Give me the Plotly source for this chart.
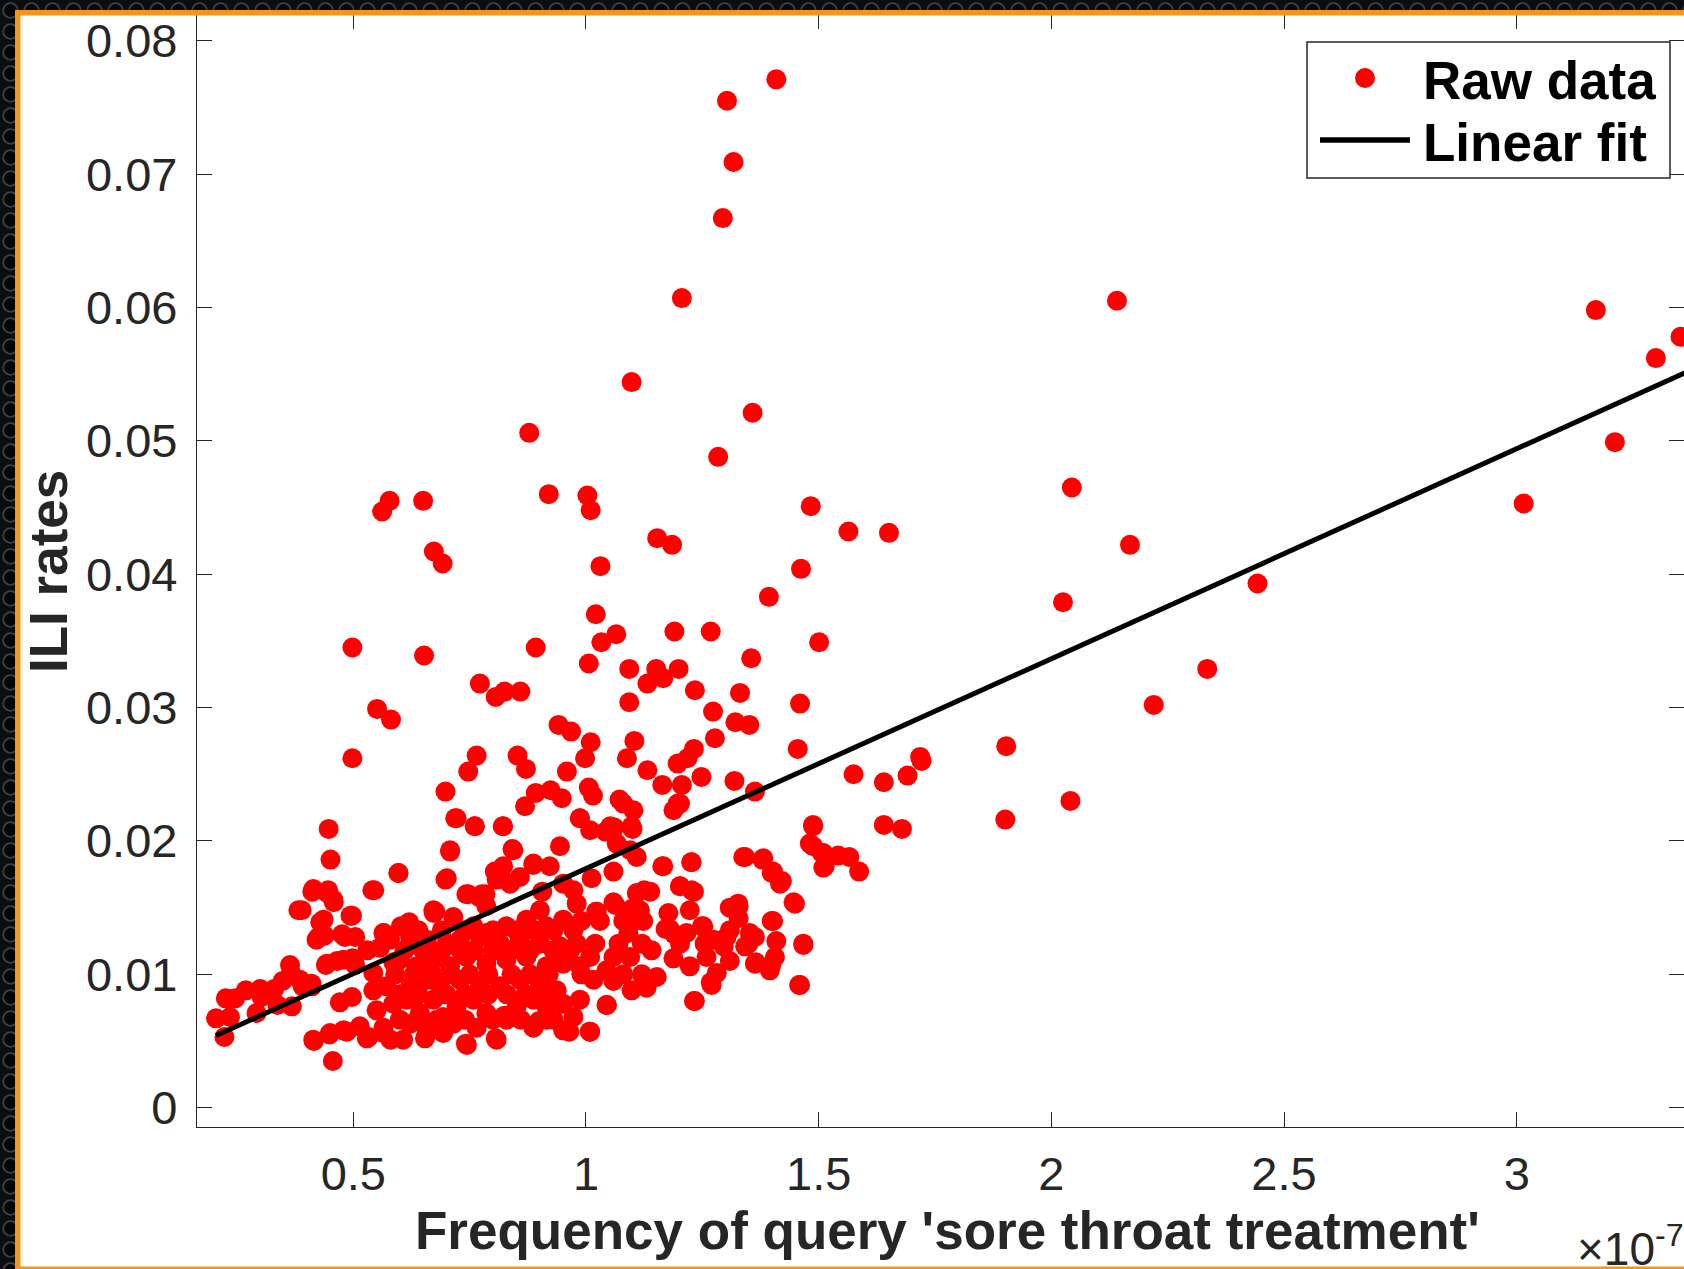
import base64
import plotly.graph_objects as go

# ---------------- data (x in units of 1e-7) ----------------
freq_high = [1.409, 1.303, 1.317, 1.294, 1.206, 2.141, 3.170, 3.352, 3.299, 3.211, 3.015, 1.098, 1.358, 0.878, 1.284,
             2.044, 0.650, 0.578, 0.562, 0.920, 1.003, 1.010, 1.483, 1.153, 1.185, 1.564, 1.651, 2.169, 0.673, 0.692,
             1.031, 1.462, 1.393, 2.025, 2.443, 1.021, 1.065, 1.033, 1.190, 1.268, 1.501, 1.006, 0.498, 0.892, 0.652,
             1.355, 1.093, 1.151, 1.199, 1.132, 1.166, 2.335, 0.772, 0.806, 0.825, 0.859, 1.234, 1.331, 1.093, 1.460,
             2.220]
ili_high = [0.0771, 0.0755, 0.0709, 0.0667, 0.0607, 0.0605, 0.0598, 0.0578, 0.0562, 0.0499, 0.0453, 0.0544, 0.0521, 0.0506, 0.0488,
            0.0465, 0.0455, 0.0455, 0.0447, 0.0460, 0.0459, 0.0448, 0.0451, 0.0427, 0.0422, 0.0432, 0.0431, 0.0422, 0.0417, 0.0408,
            0.0406, 0.0404, 0.0383, 0.0379, 0.0393, 0.0370, 0.0355, 0.0349, 0.0357, 0.0357, 0.0349, 0.0333, 0.0345, 0.0345, 0.0339,
            0.0337, 0.0329, 0.0329, 0.0329, 0.0318, 0.0322, 0.0329, 0.0318, 0.0308, 0.0312, 0.0312, 0.0313, 0.0311, 0.0304, 0.0303,
            0.0302]

freq_mid = [0.551, 0.581, 1.273, 0.941, 0.968, 1.321, 1.351, 1.010, 1.104, 1.277, 1.903, 0.765, 0.853, 1.232, 1.455,
            1.718, 1.721, 0.498, 0.747, 0.871, 0.959, 0.998, 1.088, 1.132, 1.197, 1.218, 1.575, 1.691, 1.640, 1.319,
            1.164, 1.206, 1.248, 1.363, 0.924, 0.892, 1.006, 0.698, 1.015, 0.948, 1.072, 0.869, 1.197, 1.901, 2.041,
            0.719, 0.761, 0.821, 0.447, 0.987, 1.042, 1.061, 1.100, 1.488, 1.640, 1.679]
ili_mid = [0.0299, 0.0291, 0.0297, 0.0287, 0.0282, 0.0289, 0.0287, 0.0274, 0.0275, 0.0277, 0.0271, 0.0264, 0.0264, 0.0269, 0.0269,
           0.0263, 0.0260, 0.0262, 0.0252, 0.0254, 0.0252, 0.0262, 0.0262, 0.0253, 0.0258, 0.0262, 0.0250, 0.0249, 0.0244, 0.0245,
           0.0242, 0.0242, 0.0248, 0.0237, 0.0238, 0.0236, 0.0240, 0.0237, 0.0234, 0.0232, 0.0231, 0.0226, 0.0228, 0.0216, 0.0230,
           0.0217, 0.0211, 0.0211, 0.0209, 0.0217, 0.0207, 0.0210, 0.0209, 0.0211, 0.0212, 0.0209]

freq_low = [1.488, 1.507, 0.842, 0.708, 0.451, 1.338, 1.379, 1.566, 1.226, 1.164, 1.510, 1.587, 1.402, 1.421, 0.597,
            0.698, 0.887, 0.804, 0.412, 0.444, 0.541, 0.458, 0.382, 0.494, 0.747, 0.770, 0.784, 0.906, 1.125, 1.202,
            1.232, 1.446, 1.328, 1.328, 1.402, 0.429, 0.438, 0.421, 0.476, 0.565, 0.602, 0.620, 0.673, 1.022, 1.063,
            1.098, 1.098, 1.171, 1.249, 1.190, 1.363, 1.255, 1.296, 1.342, 1.467, 1.409, 0.530, 0.465, 0.498, 0.441,
            0.364, 0.348, 0.366, 0.330, 0.300, 0.269, 0.246, 0.226, 0.205, 0.235, 0.223, 0.292, 0.303, 0.337, 0.368,
            0.391, 0.410, 1.458, 1.365, 1.398, 1.232, 1.268, 0.415, 0.456, 0.449, 0.486, 0.533, 0.580, 0.742, 0.806,
            0.899, 0.964, 1.008, 1.045, 0.825, 0.915, 0.662]
ili_low = [0.0196, 0.0191, 0.0194, 0.0192, 0.0186, 0.0188, 0.0186, 0.0188, 0.0184, 0.0181, 0.0180, 0.0177, 0.0177, 0.0170, 0.0176,
           0.0171, 0.0182, 0.0177, 0.0162, 0.0161, 0.0163, 0.0154, 0.0148, 0.0144, 0.0160, 0.0158, 0.0160, 0.0162, 0.0163, 0.0166,
           0.0162, 0.0154, 0.0151, 0.0142, 0.0140, 0.0139, 0.0129, 0.0126, 0.0130, 0.0131, 0.0136, 0.0139, 0.0146, 0.0147, 0.0152,
           0.0149, 0.0139, 0.0134, 0.0136, 0.0130, 0.0128, 0.0123, 0.0121, 0.0121, 0.0122, 0.0125, 0.0118, 0.0110, 0.0112, 0.0107,
           0.0107, 0.0095, 0.0101, 0.0089, 0.0089, 0.0088, 0.0082, 0.0082, 0.0067, 0.0068, 0.0053, 0.0071, 0.0083, 0.0077, 0.0076,
           0.0091, 0.0093, 0.0092, 0.0109, 0.0107, 0.0080, 0.0094, 0.0050, 0.0035, 0.0055, 0.0057, 0.0053, 0.0051, 0.0048, 0.0052,
           0.0065, 0.0057, 0.0057, 0.0077, 0.0069, 0.0068, 0.0057]

freq_core_a = [0.722, 0.761, 0.822, 0.708, 0.701, 0.743, 0.776, 0.822, 0.844, 0.808, 0.837, 0.858, 0.887, 0.922, 0.944,
               0.951, 0.786, 0.901, 0.672, 0.715, 0.758, 0.786, 0.829, 0.872, 0.915, 0.951, 0.579, 0.622, 0.658, 0.701,
               0.729, 0.772, 0.815, 0.858, 0.901, 0.944, 0.600, 0.636, 0.672, 0.708, 0.743, 0.786, 0.829, 0.872, 0.915,
               0.951, 0.572, 0.622, 0.658, 0.686, 0.729, 0.772, 0.815, 0.858, 0.901, 0.937, 0.550, 0.586, 0.615, 0.643,
               0.672, 0.693, 0.722, 0.758, 0.786, 0.822, 0.851, 0.887, 0.915, 0.951, 0.565, 0.622, 0.658, 0.715, 0.765,
               0.829, 0.887, 0.414, 0.446, 0.457, 0.389, 0.497, 0.436, 0.425, 0.482, 0.504, 0.565, 0.615, 0.676, 0.557,
               0.443, 0.479, 0.504, 0.385, 0.411, 0.543, 0.586, 0.471, 0.497, 0.543, 0.414, 0.450, 0.479, 0.514, 0.529,
               0.564, 0.607, 0.654, 0.693, 0.744, 0.808, 0.916, 0.951, 0.545, 0.597]
ili_core_a = [0.0217, 0.0211, 0.0211, 0.0193, 0.0172, 0.0160, 0.0160, 0.0181, 0.0193, 0.0171, 0.0168, 0.0173, 0.0183, 0.0181, 0.0196,
              0.0168, 0.0151, 0.0148, 0.0148, 0.0143, 0.0136, 0.0131, 0.0136, 0.0141, 0.0136, 0.0141, 0.0126, 0.0128, 0.0126, 0.0123,
              0.0126, 0.0128, 0.0123, 0.0126, 0.0123, 0.0121, 0.0111, 0.0106, 0.0111, 0.0106, 0.0113, 0.0108, 0.0111, 0.0113, 0.0106,
              0.0108, 0.0091, 0.0091, 0.0096, 0.0091, 0.0096, 0.0091, 0.0091, 0.0096, 0.0093, 0.0088, 0.0073, 0.0078, 0.0081, 0.0071,
              0.0081, 0.0068, 0.0076, 0.0081, 0.0071, 0.0068, 0.0076, 0.0081, 0.0076, 0.0078, 0.0060, 0.0063, 0.0058, 0.0063, 0.0060,
              0.0066, 0.0060, 0.0164, 0.0163, 0.0156, 0.0148, 0.0144, 0.0141, 0.0128, 0.0128, 0.0128, 0.0131, 0.0137, 0.0147, 0.0120,
              0.0108, 0.0111, 0.0107, 0.0096, 0.0091, 0.0101, 0.0109, 0.0079, 0.0083, 0.0088, 0.0051, 0.0056, 0.0058, 0.0061, 0.0052,
              0.0056, 0.0051, 0.0052, 0.0056, 0.0047, 0.0051, 0.0066, 0.0058, 0.0163, 0.0176]

freq_core_b = [0.987, 1.009, 1.052, 1.098, 1.066, 1.095, 1.109, 1.080, 1.102, 1.188, 1.202, 1.166, 1.227, 1.342, 1.381,
               1.399, 1.417, 1.449, 1.488, 1.481, 1.510, 1.513, 1.542, 1.059, 1.012, 0.973, 0.980, 1.023, 1.059, 1.109,
               1.138, 1.116, 1.123, 1.091, 1.177, 1.202, 1.227, 1.223, 1.180, 1.216, 1.252, 1.274, 1.302, 1.309, 1.327,
               1.309, 1.352, 1.349, 1.399, 1.467, 1.406, 1.363, 1.395, 1.460, 1.234, 1.270, 1.281, 1.309, 1.259, 1.223,
               1.188, 1.202, 1.141, 1.152, 1.130, 1.098, 1.095, 1.059, 1.044, 1.059, 1.016, 1.009, 0.973, 0.966, 0.987,
               0.987, 1.044, 0.973, 1.009]
ili_core_b = [0.0217, 0.0208, 0.0211, 0.0211, 0.0198, 0.0193, 0.0188, 0.0228, 0.0223, 0.0223, 0.0228, 0.0181, 0.0184, 0.0188, 0.0187,
              0.0176, 0.0168, 0.0153, 0.0212, 0.0198, 0.0191, 0.0181, 0.0189, 0.0177, 0.0172, 0.0163, 0.0153, 0.0147, 0.0154, 0.0161,
              0.0162, 0.0148, 0.0140, 0.0131, 0.0146, 0.0166, 0.0163, 0.0148, 0.0134, 0.0131, 0.0136, 0.0126, 0.0128, 0.0133, 0.0153,
              0.0150, 0.0131, 0.0123, 0.0140, 0.0123, 0.0113, 0.0108, 0.0103, 0.0092, 0.0080, 0.0092, 0.0101, 0.0110, 0.0113, 0.0106,
              0.0112, 0.0123, 0.0118, 0.0098, 0.0090, 0.0088, 0.0113, 0.0113, 0.0103, 0.0095, 0.0096, 0.0113, 0.0133, 0.0118, 0.0106,
              0.0081, 0.0077, 0.0068, 0.0057]

# extra points filling the dense core of the cloud
freq_core_c = [0.61, 0.65, 0.69, 0.73, 0.76, 0.80, 0.84, 0.88, 0.93,
               0.59, 0.63, 0.67, 0.71, 0.75, 0.79, 0.84, 0.88, 0.92,
               0.60, 0.64, 0.70, 0.74, 0.79, 0.83, 0.87, 0.92,
               0.60, 0.64, 0.68, 0.74, 0.80, 0.86, 0.93,
               0.64, 0.69, 0.74, 0.80, 0.85, 0.89, 0.93,
               0.98, 1.02, 1.07, 1.12, 0.99, 1.08, 1.12, 0.99, 1.03, 1.08]
ili_core_c = [0.0118, 0.0118, 0.0118, 0.0118, 0.0118, 0.0118, 0.0118, 0.0118, 0.0118,
              0.0100, 0.0100, 0.0100, 0.0100, 0.0100, 0.0100, 0.0100, 0.0100, 0.0100,
              0.0085, 0.0085, 0.0085, 0.0085, 0.0085, 0.0085, 0.0085, 0.0085,
              0.0066, 0.0066, 0.0066, 0.0066, 0.0066, 0.0066, 0.0066,
              0.0133, 0.0133, 0.0133, 0.0133, 0.0133, 0.0133, 0.0133,
              0.0123, 0.0123, 0.0123, 0.0123, 0.0100, 0.0100, 0.0100, 0.0140, 0.0140, 0.0140]

fit_x = [0.205, 3.40]
fit_y = [0.00541, 0.0557]

x_ticks = [0.5, 1, 1.5, 2, 2.5, 3]
x_tick_text = ["0.5", "1", "1.5", "2", "2.5", "3"]
y_ticks = [0, 0.01, 0.02, 0.03, 0.04, 0.05, 0.06, 0.07, 0.08]
y_tick_text = ["0", "0.01", "0.02", "0.03", "0.04", "0.05", "0.06", "0.07", "0.08"]

x_label = "Frequency of query 'sore throat treatment'"
y_label = "ILI rates"
x_exponent = "×10<sup>-7</sup>"
legend_names = ["Raw data", "Linear fit"]

freq = freq_high + freq_mid + freq_low + freq_core_a + freq_core_b + freq_core_c
ili = ili_high + ili_mid + ili_low + ili_core_a + ili_core_b + ili_core_c

# ---------------- layout geometry (pixels) ----------------
W, H = 1684, 1269
L, R, T, B = 197, 1684, 14, 1127
def px(x):
    return (x - L) / (R - L)
def py(y):
    return (B - y) / (B - T)

FONT = "Liberation Sans, Arial, Helvetica, sans-serif"
AX = "#262626"
ORANGE = "#F5961C"
RED = "#FF0000"

svg = f'''<svg xmlns="http://www.w3.org/2000/svg" width="{W}" height="{H}">
<defs><pattern id="p" width="21" height="21" patternUnits="userSpaceOnUse">
<rect width="21" height="21" fill="#0c0d10"/>
<circle cx="10.5" cy="10.5" r="7.3" fill="#060607" stroke="#3a434d" stroke-width="1.8"/>
</pattern></defs><rect width="{W}" height="{H}" fill="url(#p)"/></svg>'''
svg_uri = "data:image/svg+xml;base64," + base64.b64encode(svg.encode()).decode()

fig = go.Figure()
fig.add_trace(go.Scatter(x=freq, y=ili, mode="markers", name=legend_names[0], showlegend=False,
                         marker=dict(size=20, color=RED, line=dict(width=0))))
fig.add_trace(go.Scatter(x=fit_x, y=fit_y, mode="lines", name=legend_names[1], showlegend=False,
                         line=dict(color="black", width=5)))

axis_common = dict(showgrid=False, zeroline=False, showline=True, linecolor=AX, linewidth=1.3,
                   ticks="inside", ticklen=15, tickwidth=1.3, tickcolor=AX, mirror="ticks",
                   tickfont=dict(family=FONT, size=47, color=AX), automargin=False)

# legend box drawn in pixel geometry
LEG = dict(x0=1307, x1=1670, y0=42, y1=178)
legend_shapes = [
    dict(type="rect", xref="paper", yref="paper", x0=px(LEG["x0"]), x1=px(LEG["x1"]),
         y0=py(LEG["y1"]), y1=py(LEG["y0"]), fillcolor="white", line=dict(color=AX, width=1.5), layer="above"),
    dict(type="circle", xref="paper", yref="paper", x0=px(1355), x1=px(1375), y0=py(88), y1=py(68),
         fillcolor=RED, line=dict(width=0), layer="above"),
    dict(type="line", xref="paper", yref="paper", x0=px(1320), x1=px(1410), y0=py(140), y1=py(140),
         line=dict(color="black", width=5.5), layer="above"),
]
legend_texts = [
    dict(text=legend_names[0], xref="paper", yref="paper", x=px(1421), y=py(80), xanchor="left", yanchor="middle",
         showarrow=False, font=dict(family=FONT, size=53, color="black", weight="bold")),
    dict(text=legend_names[1], xref="paper", yref="paper", x=px(1421), y=py(142), xanchor="left", yanchor="middle",
         showarrow=False, font=dict(family=FONT, size=53, color="black", weight="bold")),
]

fig.update_layout(
    width=W, height=H, autosize=False, showlegend=False,
    margin=dict(l=L, r=W - R, t=T, b=H - B, pad=0),
    paper_bgcolor="#0c0d10", plot_bgcolor="white",
    xaxis=dict(range=[0.1641, 3.3595], tickvals=x_ticks, ticktext=x_tick_text,
               ticklabelstandoff=5, **axis_common),
    yaxis=dict(range=[-0.001447, 0.08200], tickvals=y_ticks, ticktext=y_tick_text,
               ticklabelstandoff=9, **axis_common),
    images=[dict(source=svg_uri, xref="paper", yref="paper", x=px(0), y=py(0),
                 sizex=W / (R - L), sizey=H / (B - T), sizing="stretch", layer="below",
                 xanchor="left", yanchor="top")],
    shapes=[
        dict(type="rect", xref="paper", yref="paper", x0=px(15), x1=px(W + 10), y0=py(H + 10), y1=py(10),
             fillcolor="white", line=dict(width=0), layer="below"),
        dict(type="rect", xref="paper", yref="paper", x0=px(15), x1=px(W + 10), y0=py(15.5), y1=py(10),
             fillcolor=ORANGE, line=dict(width=0), layer="above"),
        dict(type="rect", xref="paper", yref="paper", x0=px(15), x1=px(20.5), y0=py(H + 10), y1=py(10),
             fillcolor=ORANGE, line=dict(width=0), layer="above"),
        dict(type="rect", xref="paper", yref="paper", x0=px(15), x1=px(W + 10), y0=py(H + 10), y1=py(1266.5),
             fillcolor=ORANGE, line=dict(width=0), layer="above"),
    ] + legend_shapes,
    annotations=[
        dict(text=x_label, xref="paper", yref="paper", x=px(947), y=py(1230), xanchor="center", yanchor="middle",
             showarrow=False, font=dict(family=FONT, size=53, color=AX, weight="bold")),
        dict(text=y_label, xref="paper", yref="paper", x=px(48), y=py(572), xanchor="center", yanchor="middle",
             textangle=-90, showarrow=False, font=dict(family=FONT, size=53, color=AX, weight="bold")),
        dict(text=x_exponent, xref="paper", yref="paper", x=px(1575), y=py(1246), xanchor="left", yanchor="middle",
             showarrow=False, font=dict(family=FONT, size=46, color=AX)),
    ] + legend_texts,
)

fig.write_html("out.html")
